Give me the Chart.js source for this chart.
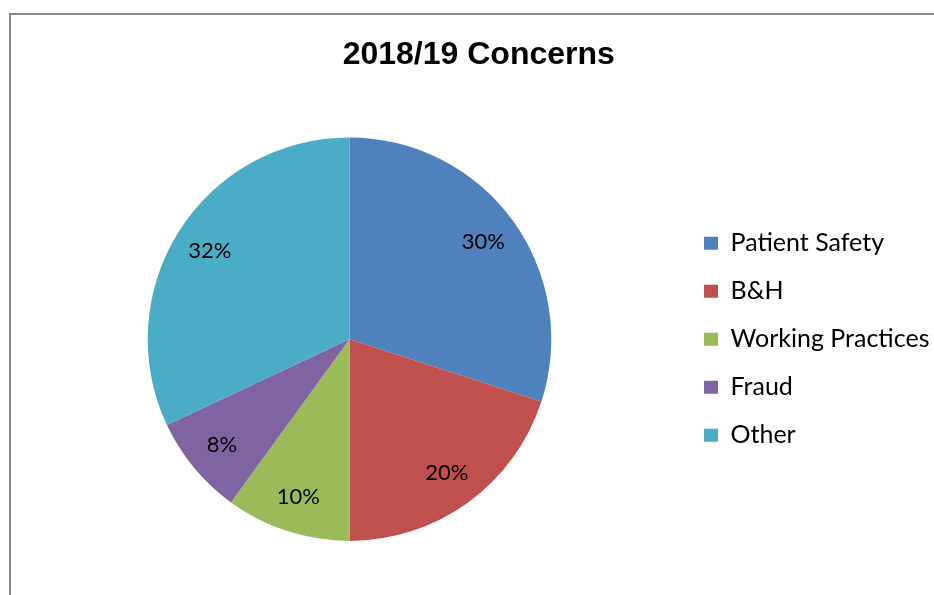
<!DOCTYPE html>
<html>
<head>
<meta charset="utf-8">
<script src="https://cdn.jsdelivr.net/npm/chart.js@4"></script>
<style>
  html, body { margin: 0; padding: 0; background: #ffffff; overflow: hidden; }
  body { width: 934px; height: 595px; position: relative; }
  #frame {
    position: absolute; left: 9px; top: 13px; width: 1000px; height: 700px;
    border: 2px solid #878787; box-sizing: border-box;
  }
  #wrap { position: absolute; left: 0; top: 0; width: 960px; height: 595px; }
</style>
</head>
<body>
<div id="frame"></div>
<div id="wrap"><canvas id="chart" width="960" height="595"></canvas></div>
<script>
// Share of concerns raised in 2018/19, by category (percent)
const categories = ['Patient Safety', 'B&H', 'Working Practices', 'Fraud', 'Other'];
const shares = [30, 20, 10, 8, 32];
const sliceColors = ['#4F81BD', '#C0504D', '#9BBB59', '#8064A2', '#4BACC6'];

const bodyFamily = 'Lato, "Open Sans", sans-serif';
const valueFont = { family: bodyFamily, size: 22 };
const legendFont = { family: bodyFamily, size: 25 };

// Percent labels placed inside each slice, toward the rim
const sliceLabels = {
  id: 'sliceLabels',
  afterDatasetsDraw(chart) {
    const ctx = chart.ctx;
    const meta = chart.getDatasetMeta(0);
    ctx.save();
    ctx.font = `${valueFont.size}px ${valueFont.family}`;
    ctx.fillStyle = '#000000';
    ctx.textAlign = 'center';
    ctx.textBaseline = 'middle';
    meta.data.forEach((arc, i) => {
      const p = arc.getProps(['x', 'y', 'startAngle', 'endAngle', 'outerRadius'], true);
      const mid = (p.startAngle + p.endAngle) / 2;
      const r = p.outerRadius * 0.82;
      ctx.fillText(shares[i] + '%', p.x + Math.cos(mid) * r, p.y + Math.sin(mid) * r);
    });
    ctx.restore();
  }
};

new Chart(document.getElementById('chart'), {
  type: 'pie',
  data: {
    labels: categories,
    datasets: [{
      data: shares,
      backgroundColor: sliceColors,
      borderWidth: 0,
      hoverOffset: 0
    }]
  },
  options: {
    responsive: false,
    animation: false,
    layout: { padding: { top: 0, bottom: 54, left: 18, right: 20.5 } },
    plugins: {
      title: {
        display: true,
        text: '2018/19 Concerns',
        color: '#000000',
        font: { family: '"Liberation Sans", Arial, sans-serif', size: 32, weight: 'bold' },
        padding: { top: 36, bottom: 63 }
      },
      legend: {
        position: 'right',
        align: 'center',
        fullSize: false,
        labels: {
          color: '#000000',
          font: legendFont,
          boxWidth: 14,
          boxHeight: 13,
          padding: 23
        }
      },
      tooltip: { enabled: false }
    }
  },
  plugins: [sliceLabels]
});
</script>
</body>
</html>
